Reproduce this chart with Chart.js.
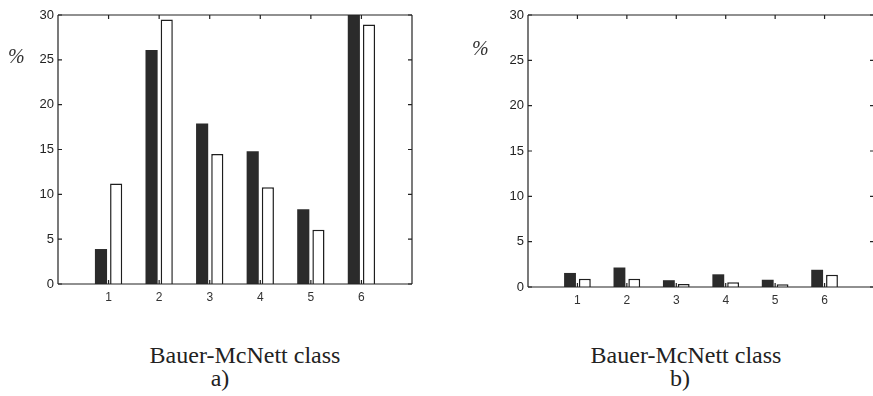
<!DOCTYPE html>
<html>
<head>
<meta charset="utf-8">
<script src="https://cdn.jsdelivr.net/npm/chart.js@4.4.0/dist/chart.umd.min.js"></script>
<style>
  html, body { margin: 0; padding: 0; background: #fff; overflow: hidden; }
  body { width: 873px; height: 396px; position: relative; }
  .box { position: absolute; top: 0; height: 320px; }
  .txt { position: absolute; font-family: "Liberation Serif", serif; color: #222; white-space: nowrap; line-height: 1; }
  .pct { position: absolute; font-family: "Liberation Serif", serif; font-style: italic; font-size: 20px; color: #333; }
</style>
</head>
<body>
<div class="box" style="left:0;width:440px"><canvas id="chartA"></canvas></div>
<div class="box" style="left:440px;width:440px"><canvas id="chartB"></canvas></div>
<div class="pct" style="left:8px;top:45px">%</div>
<div class="pct" style="left:472px;top:37px">%</div>
<div class="txt" style="left:245px;top:343px;font-size:24px;transform:translateX(-50%)">Bauer-McNett class</div>
<div class="txt" style="left:686px;top:343px;font-size:24px;transform:translateX(-50%)">Bauer-McNett class</div>
<div class="txt" style="left:220px;top:366px;font-size:24px;transform:translateX(-50%)">a)</div>
<div class="txt" style="left:680px;top:366px;font-size:24px;transform:translateX(-50%)">b)</div>
<script>
// x runs 0..7, classes sit at 1..6
const classes = ['1', '2', '3', '4', '5', '6'];
const yTicks = [0, 5, 10, 15, 20, 25, 30];

// panel a)
const darkA = [3.9, 26.1, 17.9, 14.8, 8.35, 30.5];
const whiteA = [11.2, 29.5, 14.5, 10.8, 6.05, 28.95];

// panel b)
const darkB = [1.55, 2.15, 0.75, 1.4, 0.8, 1.9];
const whiteB = [0.9, 0.9, 0.33, 0.52, 0.3, 1.36];

const labels = ['0', ...classes, '7'];
const pad = arr => [null, ...arr, null];

// box around plot with small inward ticks, like the original
const frame = {
    id: 'frame',
    afterDatasetsDraw(chart, args, opts) {
        const { ctx, chartArea: a, scales } = chart;
        ctx.save();
        ctx.lineWidth = 1.2;
        ctx.strokeStyle = '#222';
        ctx.beginPath();
        ctx.moveTo(a.left, a.top); ctx.lineTo(a.right, a.top);
        ctx.moveTo(a.left, a.top); ctx.lineTo(a.left, a.bottom);
        ctx.moveTo(a.left, a.bottom); ctx.lineTo(a.right, a.bottom);
        ctx.stroke();
        ctx.strokeStyle = opts.rightColor || '#222';
        ctx.beginPath();
        ctx.moveTo(a.right, a.top); ctx.lineTo(a.right, a.bottom);
        ctx.stroke();
        ctx.strokeStyle = '#222';
        ctx.beginPath();
        const t = 4;
        yTicks.forEach(v => {
            const y = scales.y.getPixelForValue(v);
            ctx.moveTo(a.left, y); ctx.lineTo(a.left + t, y);
            ctx.moveTo(a.right, y); ctx.lineTo(a.right - t, y);
        });
        classes.forEach((c, i) => {
            const x = scales.x.getPixelForValue(i + 1);
            ctx.moveTo(x, a.top); ctx.lineTo(x, a.top + t);
            ctx.moveTo(x, a.bottom); ctx.lineTo(x, a.bottom - t);
        });
        ctx.stroke();
        ctx.restore();
    }
};

function makeChart(el, dark, white, padding, xHeight, yWidth, catPct, rightColor) {
    return new Chart(document.getElementById(el), {
        type: 'bar',
        data: {
            labels: labels,
            datasets: [{
                data: pad(dark),
                backgroundColor: '#2b2b2b',
                borderColor: '#2b2b2b',
                borderWidth: 0
            }, {
                data: pad(white),
                backgroundColor: '#ffffff',
                borderColor: '#1e1e1e',
                borderWidth: 1.5
            }]
        },
        options: {
            responsive: true,
            maintainAspectRatio: false,
            animation: false,
            layout: { padding: padding },
            plugins: {
                legend: { display: false },
                tooltip: { enabled: false },
                frame: { rightColor: rightColor }
            },
            datasets: {
                bar: { categoryPercentage: catPct, barPercentage: 0.8 }
            },
            scales: {
                x: {
                    offset: false,
                    grid: { display: false, drawTicks: false },
                    border: { display: false },
                    afterFit: s => { s.height = xHeight; },
                    ticks: {
                        padding: 6,
                        autoSkip: false,
                        maxRotation: 0,
                        color: '#333',
                        font: { family: 'Liberation Sans, Arial', size: 12 },
                        callback: (v, i) => (i === 0 || i === labels.length - 1) ? '' : labels[i]
                    }
                },
                y: {
                    min: 0,
                    max: 30,
                    grid: { display: false, drawTicks: false },
                    border: { display: false },
                    afterFit: s => { s.width = yWidth; },
                    ticks: {
                        stepSize: 5,
                        padding: 4,
                        color: '#222',
                        font: { family: 'Liberation Sans, Arial', size: 13 }
                    }
                }
            }
        },
        plugins: [frame]
    });
}

makeChart('chartA', darkA, whiteA, { left: 0, right: 28, top: 15, bottom: 0 }, 36, 58, 0.6, '#222');
makeChart('chartB', darkB, whiteB, { left: 0, right: 4, top: 15, bottom: 0 }, 33, 88, 0.6, '#bbb');
</script>
</body>
</html>
